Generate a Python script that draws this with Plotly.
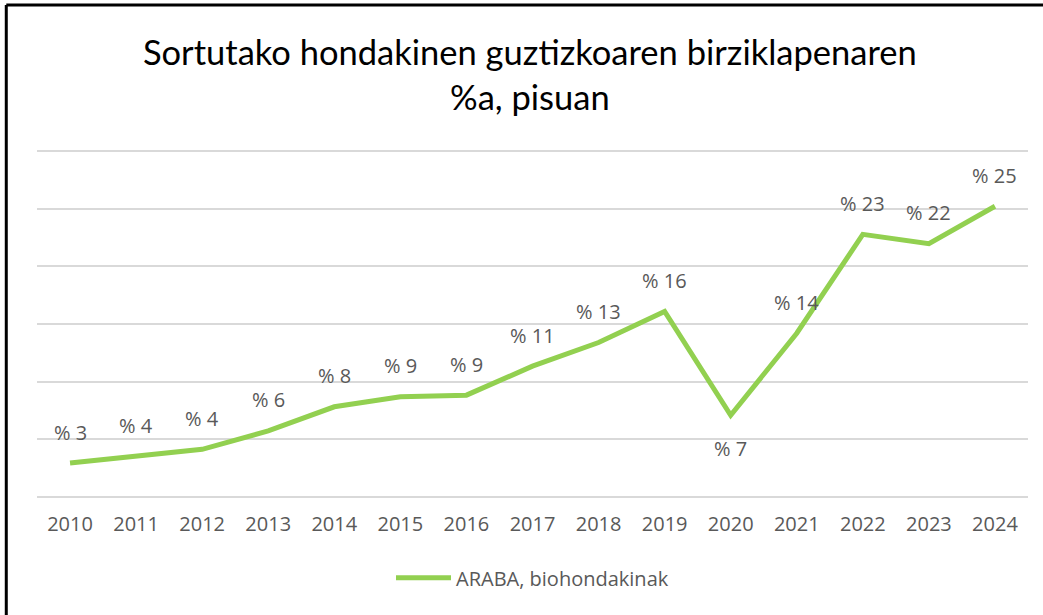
import plotly.graph_objects as go

# data
years = ["2010", "2011", "2012", "2013", "2014", "2015", "2016", "2017",
         "2018", "2019", "2020", "2021", "2022", "2023", "2024"]
araba_bio = [2.96, 3.54, 4.15, 5.74, 7.83, 8.7, 8.84, 11.35,
             13.4, 16.09, 7.1, 14.2, 22.76, 21.95, 25.2]
# labels sit under the line where the line dips
label_below = ["2020"]

GREEN = "#92D050"
GREY_TXT = "#595959"

fig = go.Figure()
fig.add_trace(go.Scatter(
    x=years,
    y=araba_bio,
    mode="lines",
    name="ARABA, biohondakinak",
    line=dict(color=GREEN, width=5),
    hoverinfo="x+y",
))

# data labels, "% n" style (x given as category index)
for i, (yr, val) in enumerate(zip(years, araba_bio)):
    fig.add_annotation(
        x=i, y=val,
        xref="x", yref="y",
        text=f"% {round(val)}",
        showarrow=False,
        yshift=-33 if yr in label_below else 31,
        font=dict(family="Open Sans", size=20, color=GREY_TXT),
    )

# outer frame (top and left edge, as in the screenshot)
fig.add_shape(type="line", xref="paper", yref="paper",
              x0=-0.031, x1=1.02, y0=1.391, y1=1.391,
              line=dict(color="black", width=3))
fig.add_shape(type="line", xref="paper", yref="paper",
              x0=-0.031, x1=-0.031, y0=1.391, y1=-0.4,
              line=dict(color="black", width=3))

fig.update_layout(
    width=1043,
    height=615,
    paper_bgcolor="white",
    plot_bgcolor="white",
    margin=dict(l=37, r=15, t=145, b=112),
    title=dict(
        text="Sortutako hondakinen guztizkoaren birziklapenaren<br>%a, pisuan",
        x=0.508, xanchor="center",
        y=0.894, yanchor="middle",
        font=dict(family="Lato", size=34.5, color="#000000"),
    ),
    showlegend=True,
    legend=dict(
        orientation="h",
        x=0.5, xanchor="center",
        y=-0.209, yanchor="middle",
        itemwidth=55,
        font=dict(family="Open Sans", size=20, color=GREY_TXT),
    ),
    xaxis=dict(
        type="category",
        range=[-0.5, 14.5],
        showgrid=False,
        showline=False,
        zeroline=False,
        ticks="outside",
        ticklen=3,
        tickcolor="white",
        tickfont=dict(family="Open Sans", size=20, color=GREY_TXT),
    ),
    yaxis=dict(
        range=[-0.5, 30.5],
        dtick=5,
        showgrid=True,
        gridcolor="#D9D9D9",
        gridwidth=1.5,
        zeroline=False,
        showticklabels=False,
    ),
)

fig.write_html("out.html", config={"displayModeBar": False},
               post_script="document.body.style.margin='0';")
